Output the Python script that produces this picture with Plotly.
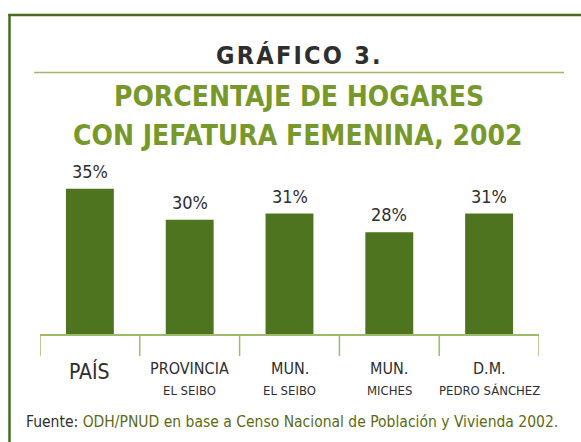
import plotly.graph_objects as go

# ── Data ──────────────────────────────────────────────────────────────────────
CATEGORIES = ["PAÍS", "PROVINCIA", "MUN.", "MUN.", "D.M."]
SUBLABELS  = ["", "EL SEIBO", "EL SEIBO", "MICHES", "PEDRO SÁNCHEZ"]
VALUES     = [35, 30, 31, 28, 31]
VALUE_TEXT = [f"{v}%" for v in VALUES]

# ── Styles ────────────────────────────────────────────────────────────────────
FONT        = "Liberation Sans Narrow, DejaVu Sans Condensed, Arial Narrow, sans-serif"
BAR_COLOR   = "#4e7420"
FRAME_COLOR = "#4a6b1d"
TITLE_GREEN = "#77982b"
LINE_LIGHT  = "#9fb96b"
DARK_TEXT   = "#2e2e2e"
FOOT_GREEN  = "#5c6b12"

W, H = 581, 442
L, R, T, B = 40, 42, 150, 108
PW, PH = W - L - R, H - T - B


def px(x):
    """pixel x -> paper x"""
    return (x - L) / PW


def py(y):
    """pixel y -> paper y"""
    return (H - B - y) / PH


fig = go.Figure(go.Bar(
    x=list(range(len(VALUES))), y=VALUES,
    marker=dict(color=BAR_COLOR, line=dict(width=0)),
    width=0.48, hoverinfo="skip",
))

ann = []

# value labels
for i, (v, t) in enumerate(zip(VALUES, VALUE_TEXT)):
    ann.append(dict(x=i, y=v, xref="x", yref="y", text=t, showarrow=False,
                    yanchor="bottom", yshift=5,
                    font=dict(family=FONT, size=18, color=DARK_TEXT)))

# category labels
for i, (c, s) in enumerate(zip(CATEGORIES, SUBLABELS)):
    if s:
        ann.append(dict(x=i, y=py(368), xref="x", yref="paper", text=c,
                        showarrow=False, yanchor="middle",
                        font=dict(family=FONT, size=16, color=DARK_TEXT)))
        ann.append(dict(x=i, y=py(390), xref="x", yref="paper", text=s,
                        showarrow=False, yanchor="middle",
                        font=dict(family=FONT, size=13, color=DARK_TEXT)))
    else:
        ann.append(dict(x=i, y=py(371), xref="x", yref="paper", text=c,
                        showarrow=False, yanchor="middle",
                        font=dict(family=FONT, size=21, color=DARK_TEXT)))

# titles
ann.append(dict(x=px(298), y=py(55), xref="paper", yref="paper", yanchor="middle",
                text="\u200a".join("GRÁFICO 3."), showarrow=False,
                font=dict(family=FONT, size=25, color=DARK_TEXT, weight="bold")))
ann.append(dict(x=px(299), y=py(96.5), xref="paper", yref="paper", yanchor="middle",
                text="PORCENTAJE DE HOGARES", showarrow=False,
                font=dict(family=FONT, size=28, color=TITLE_GREEN, weight="bold")))
ann.append(dict(x=px(298), y=py(135), xref="paper", yref="paper", yanchor="middle",
                text="CON JEFATURA FEMENINA, 2002", showarrow=False,
                font=dict(family=FONT, size=28, color=TITLE_GREEN, weight="bold")))

# footer
ann.append(dict(x=px(24), y=py(422), xref="paper", yref="paper",
                xanchor="left", yanchor="middle",
                text=f"Fuente: <span style='color:{FOOT_GREEN}'>ODH/PNUD en base a "
                     "Censo Nacional de Población y Vivienda 2002.</span>",
                showarrow=False,
                font=dict(family=FONT, size=15.5, color=DARK_TEXT)))

shapes = []
# outer frame (left + top)
shapes.append(dict(type="line", xref="paper", yref="paper",
                   x0=px(9.5), x1=px(9.5), y0=py(14), y1=py(450),
                   line=dict(color=FRAME_COLOR, width=2.5)))
shapes.append(dict(type="line", xref="paper", yref="paper",
                   x0=px(8.3), x1=px(590), y0=py(15), y1=py(15),
                   line=dict(color=FRAME_COLOR, width=2.5)))
# separator under heading
shapes.append(dict(type="line", xref="paper", yref="paper",
                   x0=px(34), x1=px(564), y0=py(72.5), y1=py(72.5),
                   line=dict(color=LINE_LIGHT, width=1.5)))
# category dividers
for k in range(len(VALUES) + 1):
    shapes.append(dict(type="line", xref="x", yref="paper",
                       x0=k - 0.5, x1=k - 0.5, y0=0, y1=py(356),
                       line=dict(color=LINE_LIGHT, width=1.5)))

fig.update_layout(
    width=W, height=H,
    margin=dict(l=L, r=R, t=T, b=B),
    paper_bgcolor="white", plot_bgcolor="white",
    showlegend=False,
    annotations=ann, shapes=shapes,
    xaxis=dict(range=[-0.5, len(VALUES) - 0.5], showticklabels=False,
               showgrid=False, zeroline=False, ticks="",
               showline=True, linecolor=LINE_LIGHT, linewidth=1.5),
    yaxis=dict(range=[11.67, 41.2], visible=False, showgrid=False, zeroline=False),
)

fig.write_html("out.html", config={"displayModeBar": False},
               post_script="document.body.style.margin='0';")
